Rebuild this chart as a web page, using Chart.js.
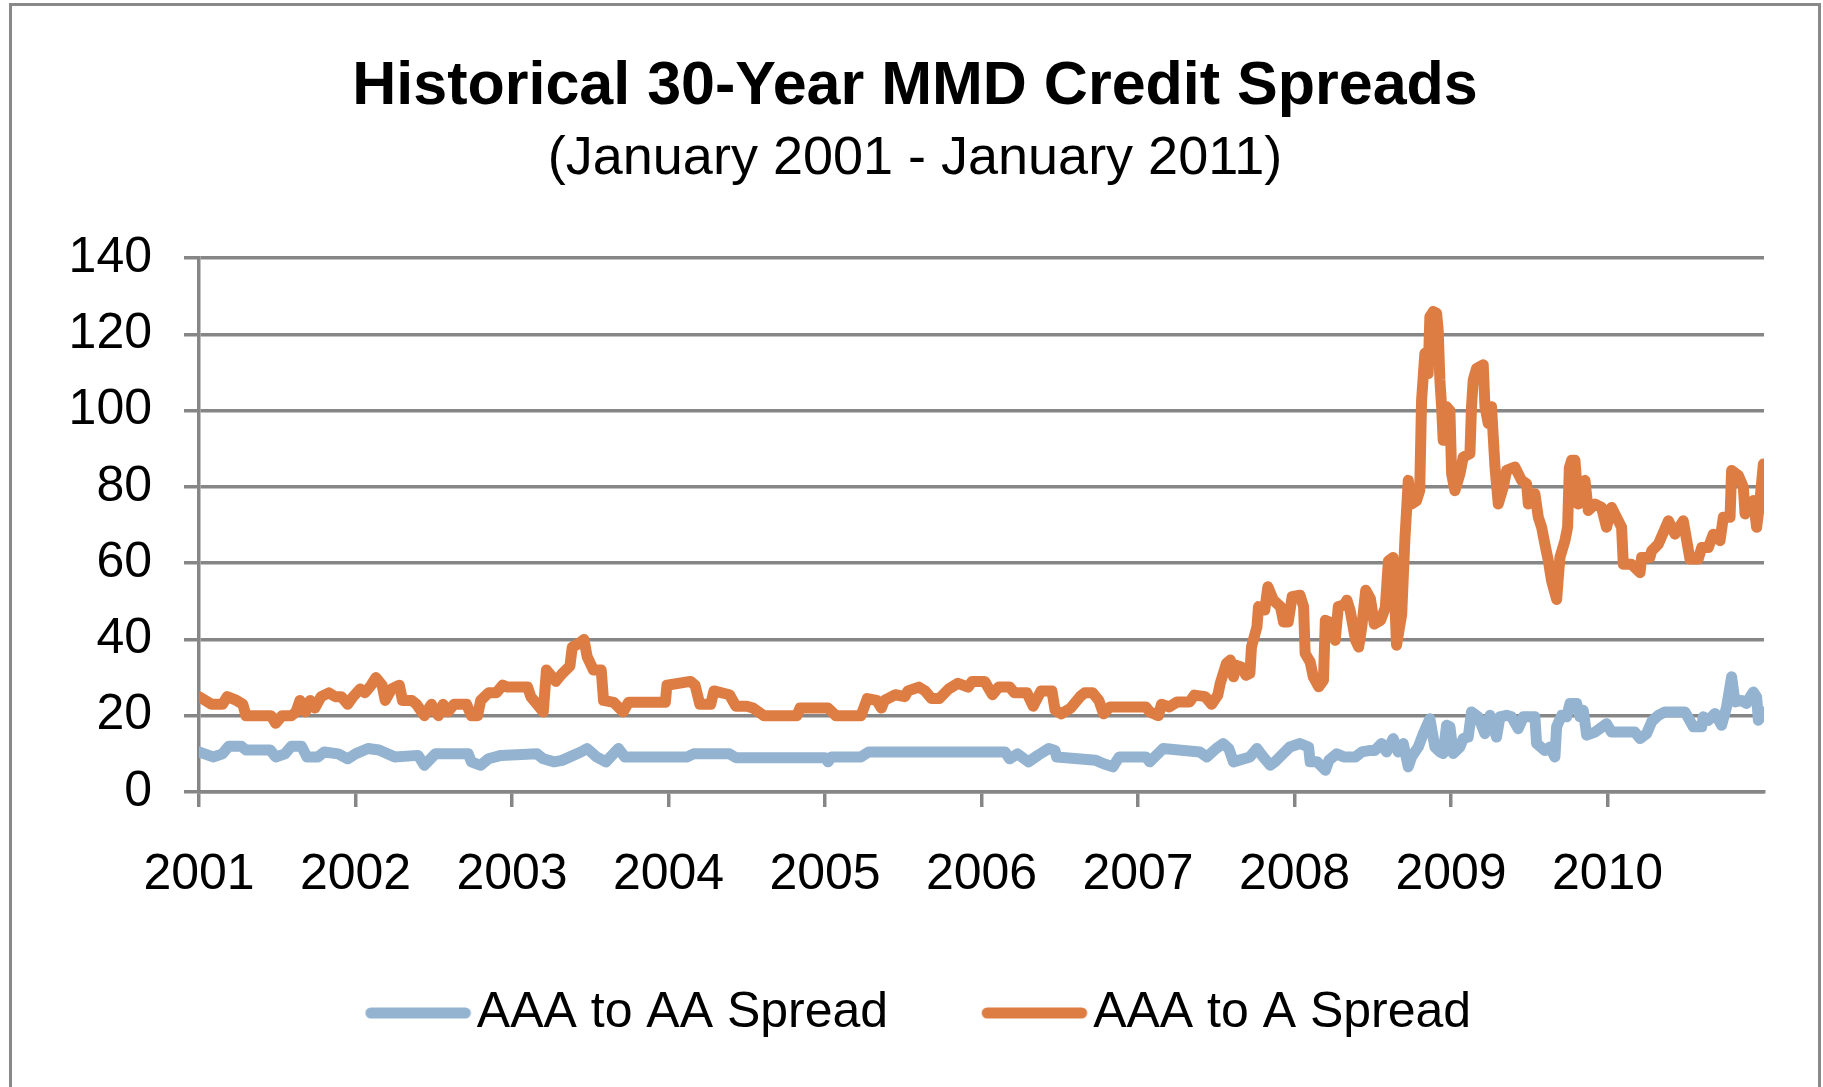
<!DOCTYPE html>
<html>
<head>
<meta charset="utf-8">
<script src="https://cdn.jsdelivr.net/npm/chart.js@4.4.1/dist/chart.umd.min.js"></script>
<style>
  html, body { margin: 0; padding: 0; background: #fff; overflow: hidden; }
  #wrap { position: relative; width: 1823px; height: 1087px; }
  #frame { position: absolute; left: 9px; top: 3px; width: 1812px; height: 1200px;
           box-sizing: border-box; border: 3px solid #898989; pointer-events: none; }
  canvas { position: absolute; left: 0; top: 0; }
</style>
</head>
<body>
<div id="wrap">
  <div id="frame"></div>
  <canvas id="c" width="1823" height="1087"></canvas>
</div>
<script>
// ---- Data (decimal year, basis points) ----
const chartTitle = 'Historical 30-Year MMD Credit Spreads';
const chartSubtitle = '(January 2001 - January 2011)';
const seriesNames = ['AAA to AA Spread', 'AAA to A Spread'];
const yearTicks = [2001, 2002, 2003, 2004, 2005, 2006, 2007, 2008, 2009, 2010];

const aaaToAA = [
  [2001.00,10.5],[2001.09,9.2],[2001.15,10],[2001.19,12],[2001.27,12],[2001.30,11],[2001.455,11],[2001.49,9.2],[2001.55,10],[2001.59,12],
  [2001.655,12],[2001.69,9.2],[2001.76,9.2],[2001.80,10.5],[2001.89,10],[2001.95,8.7],[2002.00,10],[2002.08,11.4],[2002.15,11],[2002.25,9.2],
  [2002.40,9.6],[2002.44,7],[2002.51,10],[2002.72,10],[2002.74,7.9],[2002.80,7],[2002.85,8.7],[2002.93,9.6],[2003.16,10],[2003.20,8.7],
  [2003.27,7.9],[2003.32,8.3],[2003.37,9.2],[2003.44,10.5],[2003.48,11.4],[2003.54,9.2],[2003.60,7.9],[2003.68,11.4],[2003.72,9.2],[2004.12,9.2],
  [2004.16,10],[2004.39,10],[2004.43,9],[2005.00,9],[2005.02,7.9],[2005.04,9.2],[2005.23,9.2],[2005.28,10.5],[2006.15,10.5],[2006.18,8.7],
  [2006.23,10],[2006.30,7.9],[2006.36,9.6],[2006.43,11.4],[2006.47,10.9],[2006.48,9.2],[2006.73,8.3],[2006.78,7.4],[2006.84,6.6],[2006.88,9.2],
  [2007.05,9.2],[2007.075,7.9],[2007.16,11.4],[2007.395,10.5],[2007.44,9.2],[2007.50,11.4],[2007.545,12.7],[2007.58,11.4],[2007.61,7.9],[2007.715,9.2],
  [2007.76,11.4],[2007.80,9.2],[2007.845,7],[2007.875,7.9],[2007.97,11.8],[2008.035,12.7],[2008.09,11.8],[2008.10,7.9],[2008.145,7.9],[2008.197,5.7],
  [2008.22,8.3],[2008.27,10],[2008.315,9.2],[2008.39,9.2],[2008.43,10.5],[2008.485,10.9],[2008.514,10.9],[2008.556,12.7],[2008.588,10.5],[2008.631,14],
  [2008.663,10.5],[2008.695,12.7],[2008.727,6.6],[2008.748,9.2],[2008.791,11.8],[2008.823,15.3],[2008.865,19.2],[2008.897,11.8],[2008.929,10.5],[2008.95,10.1],
  [2008.972,17.5],[2008.993,17.1],[2009.014,10.1],[2009.057,11.8],[2009.078,14],[2009.11,14.4],[2009.131,21],[2009.174,19.7],[2009.217,15.3],[2009.249,20.1],
  [2009.291,14.4],[2009.313,19.7],[2009.355,20.1],[2009.387,19.7],[2009.43,16.6],[2009.462,19.7],[2009.536,19.7],[2009.547,12.7],[2009.60,10.9],[2009.632,11.8],
  [2009.664,9.2],[2009.675,17.1],[2009.707,20.1],[2009.739,19.7],[2009.76,23.2],[2009.803,23.2],[2009.824,19.7],[2009.845,21.4],[2009.867,14.9],[2009.92,15.7],
  [2009.994,17.9],[2010.026,15.7],[2010.175,15.7],[2010.208,14],[2010.25,15.3],[2010.282,18.4],[2010.325,20.1],[2010.367,21],[2010.495,21],[2010.548,17.1],
  [2010.602,17.1],[2010.612,19.7],[2010.644,18.8],[2010.687,20.6],[2010.729,17.5],[2010.761,22.3],[2010.793,30.2],[2010.815,23.6],[2010.857,24],[2010.889,23.2],
  [2010.911,24.9],[2010.932,26.2],[2010.953,24.9],[2010.964,18.8],[2010.985,20.1],[2011.0,21]
];

const aaaToA = [
  [2001.00,25],[2001.08,23],[2001.15,23],[2001.18,25],[2001.24,24],[2001.28,23],[2001.30,20],[2001.46,20],[2001.49,18],[2001.53,20],
  [2001.59,20],[2001.62,21],[2001.645,24],[2001.68,21],[2001.71,24],[2001.74,22],[2001.78,25],[2001.83,26],[2001.87,25],[2001.91,25],
  [2001.95,23],[2001.985,25],[2002.03,27],[2002.06,26],[2002.10,28],[2002.13,30],[2002.17,28],[2002.19,24],[2002.23,27],[2002.28,28],
  [2002.30,24],[2002.36,24],[2002.39,23],[2002.44,20],[2002.485,23],[2002.53,20],[2002.56,23],[2002.59,21],[2002.63,23],[2002.71,23],
  [2002.74,20],[2002.78,20],[2002.80,24],[2002.85,26],[2002.90,26],[2002.94,28],[2002.97,27.5],[2003.10,27.5],[2003.12,25],[2003.16,23],
  [2003.20,21],[2003.22,32],[2003.28,29],[2003.32,31],[2003.37,33],[2003.385,38],[2003.43,39],[2003.46,40],[2003.48,35.5],[2003.52,32],
  [2003.57,32],[2003.585,24],[2003.65,23.5],[2003.71,21],[2003.745,23.5],[2003.98,23.5],[2003.99,28],[2004.14,29],[2004.17,28],[2004.20,23],
  [2004.27,23],[2004.29,26.5],[2004.39,25.5],[2004.43,22.5],[2004.50,22.5],[2004.54,22],[2004.61,20],[2004.82,20],[2004.84,22],[2005.02,22],
  [2005.07,20],[2005.23,20],[2005.27,24.5],[2005.33,24],[2005.36,22],[2005.38,24],[2005.45,25.5],[2005.51,25],[2005.53,26.5],[2005.60,27.5],
  [2005.64,26.5],[2005.68,24.5],[2005.73,24.5],[2005.79,27],[2005.85,28.5],[2005.915,27.5],[2005.94,29],[2006.02,29],[2006.07,25.5],[2006.11,27.5],
  [2006.18,27.5],[2006.21,26],[2006.29,26],[2006.33,22.5],[2006.38,26.5],[2006.45,26.5],[2006.47,21.5],[2006.51,20.5],[2006.57,22],[2006.63,25],
  [2006.66,26],[2006.71,26],[2006.75,24],[2006.78,20.5],[2006.82,22.3],[2007.05,22.3],[2007.075,21],[2007.13,20],[2007.15,23],[2007.20,22.3],
  [2007.25,23.6],[2007.33,23.6],[2007.36,25.4],[2007.43,25],[2007.47,23],[2007.51,25.4],[2007.525,28.4],[2007.565,33.7],[2007.59,34.6],[2007.61,30.2],
  [2007.63,33.2],[2007.66,32.8],[2007.69,30.6],[2007.715,31.1],[2007.725,38],[2007.76,43.3],[2007.77,48.6],[2007.81,47.7],[2007.83,53.8],[2007.865,50.3],
  [2007.91,48.6],[2007.93,44.6],[2007.96,44.6],[2007.985,51.2],[2008.035,51.6],[2008.058,48.6],[2008.068,36.3],[2008.10,34.1],[2008.12,30.2],[2008.155,27.6],
  [2008.185,29.3],[2008.197,45],[2008.22,44.6],[2008.26,39.8],[2008.28,48.6],[2008.315,49],[2008.335,50.3],[2008.355,47.7],[2008.39,39.8],[2008.41,38],
  [2008.43,43.3],[2008.455,52.9],[2008.485,50.7],[2008.51,44],[2008.55,45],[2008.58,48.3],[2008.60,60.6],[2008.63,61.5],[2008.652,38.5],[2008.685,46.6],
  [2008.705,65.9],[2008.727,81.7],[2008.748,75.5],[2008.78,76.4],[2008.80,79],[2008.812,102.7],[2008.833,115],[2008.854,109.7],[2008.865,124.6],[2008.887,126],
  [2008.908,125.5],[2008.918,121.1],[2008.929,108],[2008.94,101],[2008.95,92.2],[2008.972,101],[2008.993,100],[2009.004,83.4],[2009.025,79],[2009.057,83.4],
  [2009.078,87.8],[2009.121,88.7],[2009.131,101],[2009.142,108],[2009.163,111],[2009.206,112],[2009.217,101],[2009.238,96.6],[2009.259,101],[2009.281,85.2],
  [2009.302,75.5],[2009.334,79.9],[2009.355,84.3],[2009.408,85.2],[2009.451,81.7],[2009.483,80.8],[2009.494,75.5],[2009.536,78.2],[2009.558,72],[2009.579,69.4],
  [2009.60,65],[2009.622,60.6],[2009.643,55.3],[2009.675,50.5],[2009.696,61.5],[2009.728,65.9],[2009.745,69.4],[2009.756,85],[2009.771,87],[2009.792,87],
  [2009.813,75.5],[2009.835,80],[2009.856,81.7],[2009.877,73.8],[2009.92,75.5],[2009.962,74.6],[2009.994,69.4],[2010.026,74.6],[2010.058,72],[2010.09,69.4],
  [2010.101,59.7],[2010.154,59.7],[2010.208,57.5],[2010.218,61.5],[2010.271,61.5],[2010.282,63.2],[2010.325,65],[2010.389,71.1],[2010.431,67.6],[2010.484,71.1],
  [2010.527,61.1],[2010.58,61.1],[2010.602,64.1],[2010.644,64.1],[2010.676,67.6],[2010.719,65.9],[2010.74,72],[2010.783,72],[2010.793,84.3],[2010.836,83],
  [2010.868,79.9],[2010.879,72.9],[2010.911,75.5],[2010.932,76.4],[2010.953,69.4],[2010.974,76.4],[2010.996,86],[2011.0,84]
];

const yMin = 0, yMax = 140, yStep = 20;

// ---- Style ----
const BLUE = '#93B3D0';
const ORANGE = '#DE7D43';
const GRID = '#868686';
const FONT = "'Liberation Sans', Arial, Helvetica, sans-serif";
const LINE_W = 11;

function legendSwatch(color) {
  const cv = document.createElement('canvas');
  cv.width = 140; cv.height = 16;
  const g = cv.getContext('2d');
  g.strokeStyle = color; g.lineWidth = LINE_W; g.lineCap = 'round';
  g.beginPath(); g.moveTo(35.5, 8); g.lineTo(130, 8); g.stroke();
  return cv;
}

function draw() {
  Chart.defaults.font.family = FONT;
  Chart.defaults.color = '#000';
  const toXY = arr => arr.map(p => ({x: p[0], y: p[1]}));

  new Chart(document.getElementById('c'), {
    type: 'line',
    data: {
      datasets: [
        { label: seriesNames[0], data: toXY(aaaToAA), borderColor: BLUE, backgroundColor: BLUE,
          borderWidth: LINE_W, pointRadius: 0, pointHoverRadius: 0, pointStyle: legendSwatch(BLUE),
          borderJoinStyle: 'round', borderCapStyle: 'round', tension: 0, fill: false },
        { label: seriesNames[1], data: toXY(aaaToA), borderColor: ORANGE, backgroundColor: ORANGE,
          borderWidth: LINE_W, pointRadius: 0, pointHoverRadius: 0, pointStyle: legendSwatch(ORANGE),
          borderJoinStyle: 'round', borderCapStyle: 'round', tension: 0, fill: false }
      ]
    },
    options: {
      responsive: false,
      animation: false,
      devicePixelRatio: 1,
      layout: { padding: { left: 66, right: 59, top: 0, bottom: 39 } },
      plugins: {
        tooltip: { enabled: false },
        title: { display: true, text: chartTitle, color: '#000',
                 font: { size: 61, weight: 'bold', family: FONT }, padding: { top: 51, bottom: 0 } },
        subtitle: { display: true, text: chartSubtitle, color: '#000',
                 font: { size: 54, weight: 'normal', family: FONT }, padding: { top: 2.4, bottom: 66.6 } },
        legend: {
          position: 'bottom',
          labels: { usePointStyle: true, pointStyleWidth: 93, padding: 87, color: '#000',
                    font: { size: 50, family: FONT } }
        }
      },
      scales: {
        x: {
          type: 'linear', min: 2001, max: 2011,
          afterBuildTicks: s => { s.ticks = yearTicks.concat([2011]).map(v => ({value: v})); },
          afterFit: s => { s.height = 109; },
          grid: { drawOnChartArea: false, drawTicks: true, tickLength: 15, lineWidth: 3.5,
                  color: GRID,
                  tickColor: ctx => (ctx.tick && ctx.tick.value === 2011) ? 'rgba(0,0,0,0)' : GRID },
          border: { display: true, color: GRID, width: 3.5 },
          ticks: { padding: 38, maxRotation: 0, autoSkip: false, color: '#000',
                   font: { size: 50, family: FONT },
                   callback: v => yearTicks.includes(v) ? String(v) : '' }
        },
        y: {
          min: yMin, max: yMax,
          afterFit: s => { s.width = 133; },
          grid: { color: GRID, lineWidth: 3.5, tickLength: 15, drawTicks: true },
          border: { display: true, color: GRID, width: 3.5 },
          ticks: { stepSize: yStep, padding: 32, color: '#000', font: { size: 50, family: FONT } }
        }
      }
    }
  });
}

if (document.fonts && document.fonts.load) {
  Promise.all([
    document.fonts.load("bold 61px 'Liberation Sans'"),
    document.fonts.load("50px 'Liberation Sans'")
  ]).then(draw, draw);
} else { draw(); }
</script>
</body>
</html>
